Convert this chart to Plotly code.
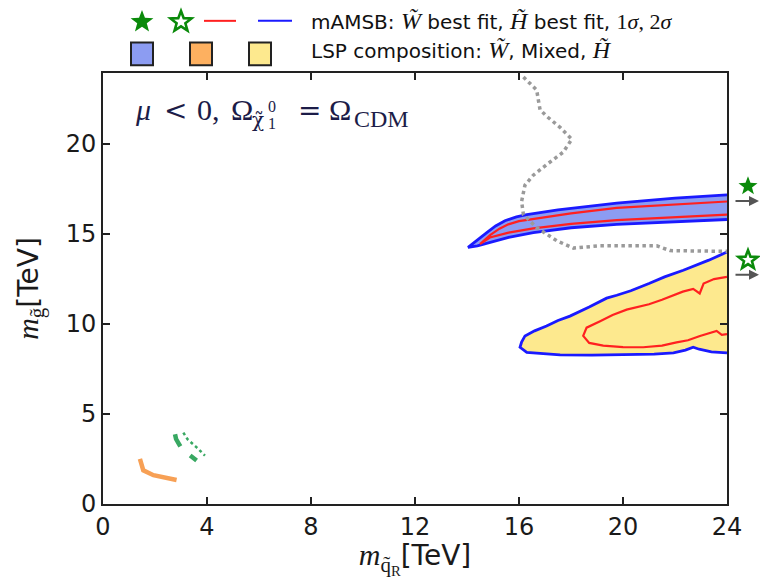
import math
import plotly.graph_objects as go

# ---------------- data (TeV) ----------------
# Wino-like region: 2 sigma (blue) and 1 sigma (red) contours, upper / lower edges
wino_2s_up_x = [14.04, 14.4, 14.76, 15.1, 15.46, 15.9, 16.3, 17.5, 19.76, 22.0, 24.0]
wino_2s_up_y = [14.26, 14.65, 15.08, 15.45, 15.74, 15.95, 16.08, 16.35, 16.72, 17.0, 17.18]
wino_2s_lo_x = [14.04, 14.4, 14.88, 15.6, 16.55, 18.0, 19.76, 22.0, 24.0]
wino_2s_lo_y = [14.2, 14.35, 14.54, 14.82, 15.08, 15.35, 15.54, 15.7, 15.81]

wino_1s_up_x = [14.5, 14.9, 15.25, 15.59, 16.0, 16.55, 18.0, 19.76, 22.0, 24.0]
wino_1s_up_y = [14.45, 14.95, 15.3, 15.54, 15.72, 15.85, 16.15, 16.45, 16.65, 16.81]
wino_1s_lo_x = [14.5, 14.88, 15.6, 16.55, 18.0, 19.76, 22.0, 24.0]
wino_1s_lo_y = [14.45, 14.81, 15.08, 15.32, 15.57, 15.77, 15.95, 16.08]

# Higgsino-like region: 2 sigma (blue) contour, from the right edge round the tip
higg_2s_x = [24.0, 23.3, 22.32, 21.6, 21.0, 20.3, 19.76, 19.37, 18.7, 17.96, 17.5, 17.06,
             16.6, 16.23, 16.1, 16.04, 16.3, 17.58, 18.8, 20.14, 21.2, 21.94, 22.4, 22.7,
             22.93, 23.4, 24.0]
higg_2s_y = [14.0, 13.55, 12.99, 12.62, 12.25, 11.85, 11.6, 11.44, 10.95, 10.44, 10.2, 9.89,
             9.62, 9.34, 9.0, 8.71, 8.43, 8.29, 8.27, 8.29, 8.33, 8.4, 8.55, 8.71,
             8.6, 8.45, 8.4]

# Higgsino-like region: 1 sigma (red) contour
higg_1s_x = [24.0, 23.5, 23.1, 22.95, 22.7, 22.3, 21.5, 21.0, 20.14, 19.6, 19.12, 18.6,
             18.47, 18.7, 19.24, 20.0, 20.78, 21.5, 22.06, 22.5, 22.96, 23.3, 23.6, 23.8, 24.0]
higg_1s_y = [12.62, 12.5, 12.25, 11.7, 11.95, 11.8, 11.35, 11.1, 10.8, 10.5, 10.16, 9.8,
             9.34, 8.95, 8.8, 8.72, 8.71, 8.8, 8.98, 9.1, 9.34, 9.5, 9.62, 9.4, 9.44]

# Grey dotted boundary
grey_x = [16.17, 16.45, 16.68, 16.75, 16.81, 17.06, 17.6, 18.03, 17.7, 17.1, 16.55, 16.23,
          16.1, 16.17, 16.68, 17.45, 18.09, 19.12, 20.2, 21.3, 21.81, 23.0, 24.0]
grey_y = [23.73, 23.35, 23.0, 22.4, 21.91, 21.55, 20.9, 20.27, 19.55, 18.9, 18.27, 17.72,
          16.81, 16.08, 15.36, 14.63, 14.22, 14.35, 14.35, 14.35, 14.08, 14.05, 14.04]

# Mixed-composition (orange) and green dashed/dotted segments at low mass
orange_x = [1.42, 1.55, 1.94, 2.45, 2.83]
orange_y = [2.51, 1.87, 1.6, 1.42, 1.33]
green_in_x = [2.77, 2.81, 3.03, 3.3, 3.6]
green_in_y = [3.88, 3.61, 3.06, 2.75, 2.42]
green_out_x = [3.09, 3.25, 3.6, 3.92]
green_out_y = [3.97, 3.6, 3.15, 2.69]

# Best-fit gluino masses (squark mass lies beyond the plotted range): Wino, Higgsino
best_fit_gluino = [16.84, 12.74]
best_fit_filled = [True, False]

x_ticks = [0, 4, 8, 12, 16, 20, 24]
y_ticks = [0, 5, 10, 15, 20]
X_MAX, Y_MAX = 24.0, 23.95

# ---------------- styles ----------------
BLUE = "#1a1aff"
RED = "#ff2020"
WINO_FILL = "#8c9cf2"
HIGG_FILL = "#fde98e"
ORANGE_FILL = "#fdb060"
GREEN = "#0a8a0a"
SANS = "DejaVu Sans"
SERIF = "Liberation Serif"
INK = "#1a1a1a"
LABEL_INK = "#1c1c48"

def math_span(s, size, family=SERIF):
    return f"<span style='font-family:{family};font-size:{size}px'>{s}</span>"

# plot-area pixel geometry, for placing glyphs and text in paper coordinates
L, R, T, B = 103, 727, 73, 511
def px(x):
    return (x - L) / (R - L)
def py(y):
    return (B - y) / (B - T)

def star_path(cx, cy, ro, ri):
    pts = []
    for k in range(10):
        ang = math.pi / 2 + k * math.pi / 5
        r = ro if k % 2 == 0 else ri
        pts.append((px(cx + r * math.cos(ang)), py(cy - r * math.sin(ang))))
    return "M " + " L ".join(f"{a:.5f},{b:.5f}" for a, b in pts) + " Z"

def star_shape(cx, cy, ro, filled):
    return dict(type="path", xref="paper", yref="paper", path=star_path(cx, cy, ro, ro * 0.42),
                fillcolor=GREEN if filled else "white",
                line=dict(color=GREEN, width=0 if filled else 2.6))

fig = go.Figure()

def text_at(x, y, s, size, family=SANS, color="#111"):
    fig.add_annotation(xref="paper", yref="paper", x=px(x), y=py(y), xanchor="left",
                       yanchor="middle", showarrow=False, text=s,
                       font=dict(family=family, size=size, color=color))

# fills
fig.add_trace(go.Scatter(x=wino_2s_up_x + wino_2s_lo_x[::-1], y=wino_2s_up_y + wino_2s_lo_y[::-1],
                         fill="toself", fillcolor=WINO_FILL, mode="lines",
                         line=dict(width=0), hoverinfo="skip"))
fig.add_trace(go.Scatter(x=higg_2s_x, y=higg_2s_y, fill="toself", fillcolor=HIGG_FILL,
                         mode="lines", line=dict(width=0), hoverinfo="skip"))

# contours
for xs, ys, c, w in [
    (wino_2s_up_x[::-1] + wino_2s_lo_x[1:], wino_2s_up_y[::-1] + wino_2s_lo_y[1:], BLUE, 2.8),
    (wino_1s_up_x[::-1] + wino_1s_lo_x[1:], wino_1s_up_y[::-1] + wino_1s_lo_y[1:], RED, 2.2),
    (higg_2s_x, higg_2s_y, BLUE, 2.8),
    (higg_1s_x, higg_1s_y, RED, 2.2),
]:
    fig.add_trace(go.Scatter(x=xs, y=ys, mode="lines", line=dict(color=c, width=w),
                             hoverinfo="skip"))

fig.add_trace(go.Scatter(x=grey_x, y=grey_y, mode="lines",
                         line=dict(color="#9a9a9a", width=3.5, dash="dot"), hoverinfo="skip"))
fig.add_trace(go.Scatter(x=orange_x, y=orange_y, mode="lines",
                         line=dict(color="#f7a055", width=4.5), hoverinfo="skip"))
fig.add_trace(go.Scatter(x=green_in_x, y=green_in_y, mode="lines",
                         line=dict(color="#38a862", width=4.5, dash="dash"), hoverinfo="skip"))
fig.add_trace(go.Scatter(x=green_out_x, y=green_out_y, mode="lines",
                         line=dict(color="#38a862", width=2.5, dash="dot"), hoverinfo="skip"))

shapes = []

# best-fit stars beyond the right edge, each with an arrow at its gluino mass
for v, filled in zip(best_fit_gluino, best_fit_filled):
    y_pix = B - v / Y_MAX * (B - T)
    shapes.append(star_shape(748, y_pix - 15, 10, filled))
    fig.add_annotation(x=px(761), y=v / Y_MAX, xref="paper", yref="paper",
                       ax=-27, ay=0, text="", showarrow=True, arrowhead=2, arrowsize=1,
                       arrowwidth=2, arrowcolor="#555555")

# legend glyphs
shapes.append(star_shape(142, 21, 12, True))
shapes.append(star_shape(181, 21, 11, False))
shapes.append(dict(type="line", xref="paper", yref="paper", x0=px(204), x1=px(236),
                   y0=py(20), y1=py(20), line=dict(color=RED, width=2)))
shapes.append(dict(type="line", xref="paper", yref="paper", x0=px(258), x1=px(292),
                   y0=py(20), y1=py(20), line=dict(color=BLUE, width=2)))
for x0, col in [(131, WINO_FILL), (190, ORANGE_FILL), (249, HIGG_FILL)]:
    shapes.append(dict(type="rect", xref="paper", yref="paper", x0=px(x0), x1=px(x0 + 22),
                       y0=py(65), y1=py(42), fillcolor=col, line=dict(color="#222", width=2)))

# legend text
text_at(309, 20, "mAMSB: " + math_span("<i>W̃</i>", 24) + " best fit, "
        + math_span("<i>H̃</i>", 24) + " best fit, "
        + math_span("1<i>σ</i>, 2<i>σ</i>", 22), 20)
text_at(309, 50, "LSP composition: " + math_span("<i>W̃</i>", 24) + ", Mixed, "
        + math_span("<i>H̃</i>", 24), 20)

# region label: mu < 0, Omega_{chi~^0_1} = Omega_CDM
text_at(133, 110, "<i>μ</i>", 30, SERIF, LABEL_INK)
text_at(162, 111, "<", 28, "DejaVu Serif", LABEL_INK)
text_at(195, 110, "0,", 30, SERIF, LABEL_INK)
text_at(229, 110, "Ω", 30, SERIF, LABEL_INK)
text_at(250, 121, "χ̃", 20, "DejaVu Serif", LABEL_INK)
text_at(266, 107, "0", 16, SERIF, LABEL_INK)
text_at(266, 124, "1", 16, SERIF, LABEL_INK)
text_at(296, 111, "=", 28, "DejaVu Serif", LABEL_INK)
text_at(327, 110, "Ω", 30, SERIF, LABEL_INK)
text_at(352, 120, "CDM", 24, SERIF, LABEL_INK)

axis_common = dict(showline=True, linecolor="#222", linewidth=1.8, mirror="ticks",
                   ticks="inside", ticklen=7, tickwidth=1.5, tickcolor="#222",
                   showgrid=False, zeroline=False,
                   tickfont=dict(family=SANS, size=24, color=INK))

fig.update_layout(
    width=760, height=579,
    margin=dict(l=L, r=760 - R, t=T, b=579 - B),
    paper_bgcolor="white", plot_bgcolor="white",
    showlegend=False,
    shapes=shapes,
    xaxis=dict(range=[0, X_MAX], tickvals=x_ticks, **axis_common,
               title=dict(text=math_span("<i>m</i><sub>q̃<sub>R</sub></sub>", 30) + "[TeV]",
                          font=dict(family=SANS, size=28, color=INK), standoff=7)),
    yaxis=dict(range=[0, Y_MAX], tickvals=y_ticks, **axis_common,
               title=dict(text=math_span("<i>m</i><sub>g̃</sub>", 30) + "[TeV]",
                          font=dict(family=SANS, size=28, color=INK), standoff=19)),
)

fig.write_html("out.html")
